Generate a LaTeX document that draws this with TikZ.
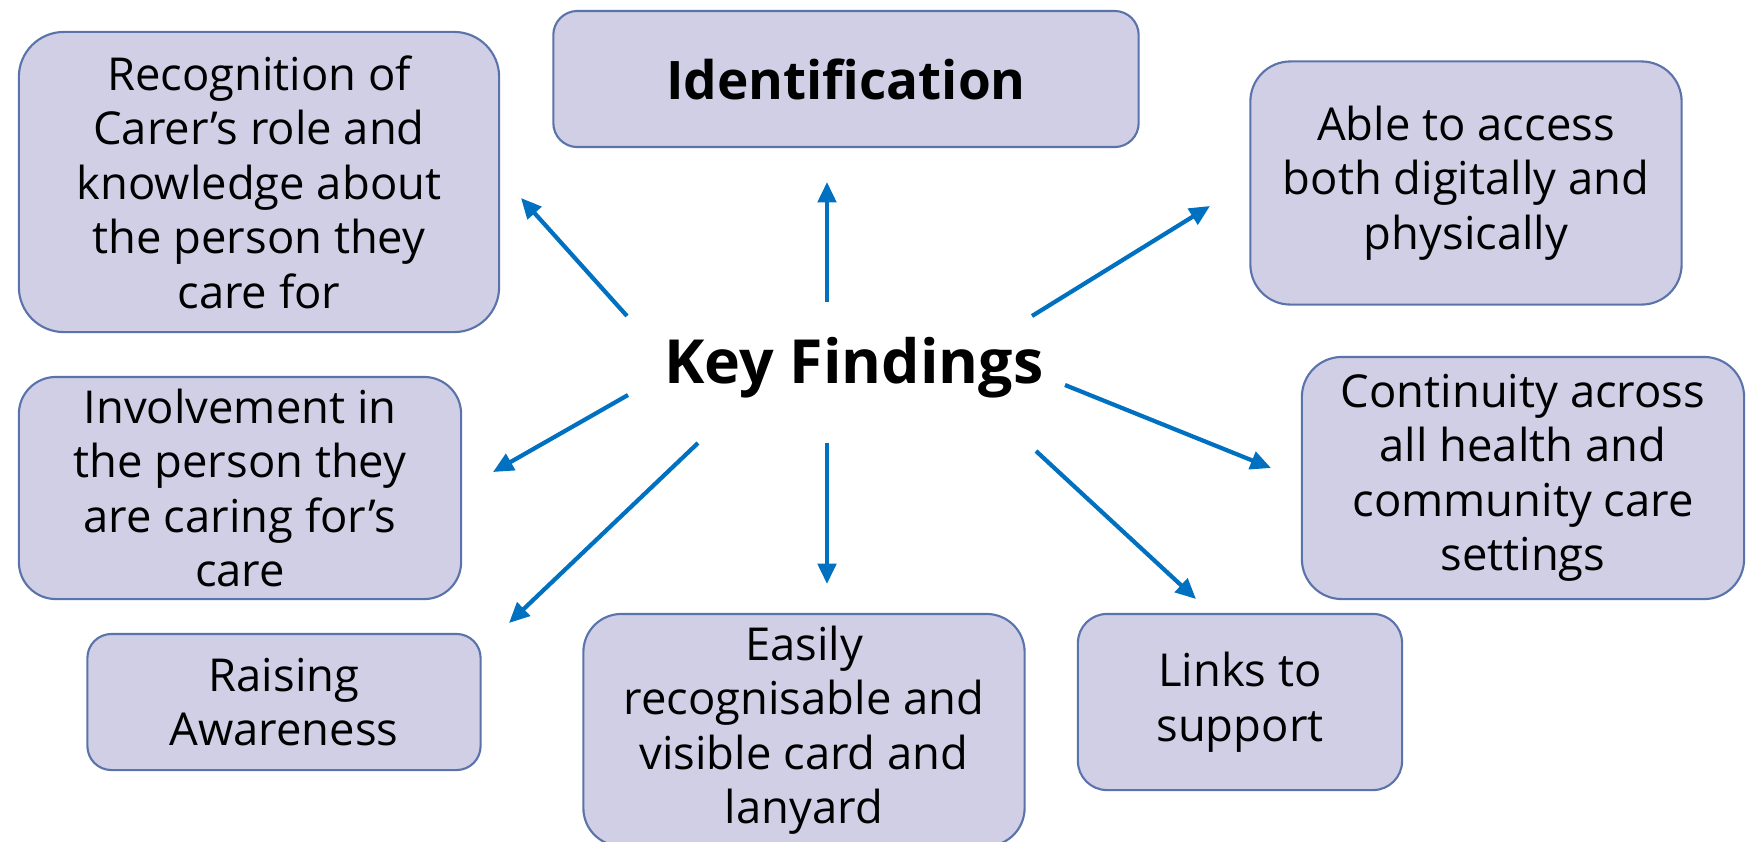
\documentclass[tikz,border=0pt]{standalone}
\usepackage{fontspec}
\setmainfont{Open Sans}
\usetikzlibrary{arrows.meta}

\definecolor{boxfill}{HTML}{D0CFE5}
\definecolor{boxline}{HTML}{5A73AA}
\definecolor{arrowblue}{HTML}{0070C0}

\begin{document}
\begin{tikzpicture}[x=0.01cm,y=-0.01cm,
	box/.style={draw=boxline,fill=boxfill,line width=0.6pt,align=center,inner sep=0pt,
		font=\fontsize{12.9}{15.5}\selectfont},
	finding/.style={-{Triangle[length=5.8pt,width=5.2pt]},draw=arrowblue,line width=1.2pt}]
	\useasboundingbox (0,0) rectangle (1750,841);
	
	%centre text
	\node[font=\bfseries\fontsize{17.3}{21}\selectfont] (kf) at (854,368) {Key Findings};
	
	%boxes
	\node[box,minimum width=4.80cm,minimum height=3.00cm,rounded corners=0.45cm] (recog) at (259,182)
		{Recognition of\\Carer’s role and\\knowledge about\\the person they\\care for};
	\node[box,minimum width=5.85cm,minimum height=1.36cm,rounded corners=0.24cm,
		font=\bfseries\fontsize{15.1}{18}\selectfont] (ident) at (846,79) {Identification};
	\node[box,minimum width=4.31cm,minimum height=2.43cm,rounded corners=0.40cm] (access) at (1466,183)
		{Able to access\\both digitally and\\physically};
	\node[box,minimum width=4.42cm,minimum height=2.22cm,rounded corners=0.37cm] (involve) at (240,488)
		{Involvement in\\the person they\\are caring for’s\\care};
	\node[box,minimum width=4.42cm,minimum height=2.42cm,rounded corners=0.40cm] (contin) at (1523,478)
		{Continuity across\\all health and\\community care\\settings};
	\node[box,minimum width=3.93cm,minimum height=1.36cm,rounded corners=0.24cm] (raise) at (284,702)
		{Raising\\Awareness};
	\node[box,minimum width=4.41cm,minimum height=2.32cm,rounded corners=0.38cm] (card) at (804,730)
		{Easily\\recognisable and\\visible card and\\lanyard};
	\node[box,minimum width=3.24cm,minimum height=1.76cm,rounded corners=0.29cm] (links) at (1240,702)
		{Links to\\support};
	
	%arrow ends
	\coordinate (t1) at (627,316);  \coordinate (h1) at (521,198);	%recognition
	\coordinate (t2) at (827,302);  \coordinate (h2) at (827,182);	%identification
	\coordinate (t3) at (1032,316); \coordinate (h3) at (1210,206);	%access
	\coordinate (t4) at (628,395);  \coordinate (h4) at (493,472);	%involvement
	\coordinate (t5) at (1065,385); \coordinate (h5) at (1271,468);	%continuity
	\coordinate (t6) at (698,443);  \coordinate (h6) at (509,623);	%raising awareness
	\coordinate (t7) at (827,443);  \coordinate (h7) at (827,584);	%card
	\coordinate (t8) at (1036,451); \coordinate (h8) at (1196,599);	%links
	
	%arrows
	\foreach \i in {1,...,8}
		\draw[finding] (t\i) -- (h\i);
\end{tikzpicture}
\end{document}
